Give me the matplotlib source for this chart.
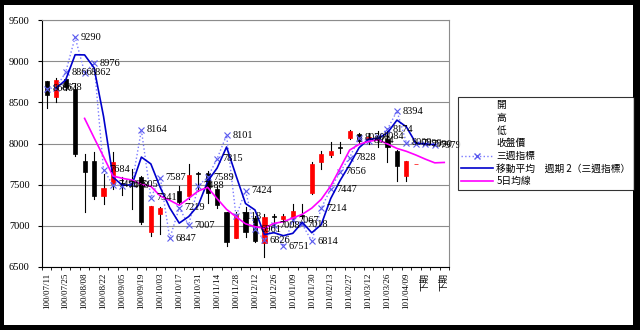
import numpy as np
import matplotlib
matplotlib.use("Agg")
import matplotlib.pyplot as plt
from matplotlib.patches import Rectangle
from matplotlib.lines import Line2D

plt.rcParams['font.family'] = ['Liberation Serif', 'Noto Sans CJK TC', 'DejaVu Sans']

# x categories (weekly)
dates = ["100/07/11", "100/07/18", "100/07/25", "100/08/01", "100/08/08", "100/08/15",
         "100/08/22", "100/08/29", "100/09/05", "100/09/12", "100/09/19", "100/09/26",
         "100/10/03", "100/10/10", "100/10/17", "100/10/24", "100/10/31", "100/11/07",
         "100/11/14", "100/11/21", "100/11/28", "100/12/05", "100/12/12", "100/12/19",
         "100/12/26", "101/01/02", "101/01/09", "101/01/16", "101/01/30", "101/02/06",
         "101/02/13", "101/02/20", "101/02/27", "101/03/05", "101/03/12", "101/03/19",
         "101/03/26", "101/04/02", "101/04/09", "下期", "下期", "下期", "下期"]

# weekly candles (open / high / low / close)
opens = [8758, 8563, 8780, 8660, 7784, 7784, 7358, 7505, 7520, 7500, 7590, 6920, 7140, None,
         7420, 7360, 7640, 7640, 7450, 7163, 6850, 7163, 7100, 6790, 7120, 7080, 7100, 7130,
         7400, 7772, 7860, 7955, 8064, 8113, 8050, 8080, 8060, 7906, 7602, 7745]
highs = [8760, 8794, 8800, 8720, 7870, 7894, 7626, 7894, 7590, 7690, 7600, 7237, 7230, None,
         7480, 7750, 7650, 7660, 7480, 7170, 7170, 7230, 7115, 7140, 7140, 7140, 7270, 7260,
         7770, 7906, 8015, 8015, 8165, 8125, 8130, 8150, 8150, 7920, 7784, 7755]
lows = [8430, 8502, 8650, 7850, 7163, 7320, 7260, 7450, 7380, 7200, 7020, 6880, 6895, None,
        7260, 7320, 7420, 7280, 7220, 6750, 6850, 6870, 6800, 6620, 6980, 7050, 7050, 7100,
        7390, 7690, 7833, 7890, 8060, 7990, 7990, 7960, 7770, 7540, 7540, 7745]
closes = [8587, 8770, 8690, 7870, 7650, 7358, 7455, 7770, 7505, 7490, 7050, 7237, 7212, None,
          7290, 7615, 7630, 7400, 7250, 6800, 7140, 6920, 6810, 7110, 7110, 7115, 7175, 7115,
          7750, 7870, 7906, 7950, 8150, 8030, 8080, 8040, 7955, 7723, 7784, 7750]

# 三週指標
week3 = [8666, 8678, 8866, 9290, 8862, 8976, 7684, 7496, 7488, 7505, 8164, 7341, 7587, 6847,
         7219, 7007, 7488, 7589, 7815, 8101, 7118, 7424, 6961, 6826, 7008, 6751, 7067, 7018,
         6814, 7214, 7447, 7656, 7828, 8070, 8034, 8084, 8174, 8394, 8009, 7999, 7990, 7979]

# 移動平均 週期 2 (三週指標)
ma2 = [None, 8672, 8772, 9078, 9076, 8919, 8330, 7590, 7492, 7497, 7835, 7752, 7464, 7217,
       7033, 7113, 7248, 7539, 7702, 7958, 7610, 7271, 7193, 6894, 6917, 6880, 6909, 7043,
       6916, 7014, 7331, 7552, 7742, 7949, 8052, 8059, 8129, 8284, 8202, 8004, 7995, 7985]

# 5日均線
ma5 = [None, None, None, None, 8305, 8070, 7840, 7605, 7577, 7556, 7504, 7480, 7362, 7310,
       7250, 7334, 7423, 7468, 7330, 7200, 7110, 7025, 6990, 6970, 7030, 7050, 7095, 7140,
       7215, 7322, 7483, 7700, 7920, 7990, 8025, 8045, 7995, 7940, 7905, 7860, 7810, 7765, 7770]

fig = plt.figure(figsize=(6.4, 3.3), dpi=100)
fig.patch.set_facecolor('black')
fig.add_artist(Rectangle((4 / 640, 5 / 330), 629 / 640, 320 / 330, transform=fig.transFigure,
                         facecolor='white', edgecolor='none', zorder=0))

ax = fig.add_axes([42 / 640, 63 / 330, 407 / 640, 247 / 330])
ax.set_facecolor('white')

# candles
for i in range(len(opens)):
    if opens[i] is None:
        continue
    o, h, l, c = opens[i], highs[i], lows[i], closes[i]
    ax.plot([i, i], [l, h], color='black', lw=0.8, zorder=2)
    col = '#ff0000' if c > o else 'black'
    ax.add_patch(Rectangle((i - 0.22, min(o, c)), 0.44, max(abs(c - o), 8),
                           facecolor=col, edgecolor=col, lw=0.5, zorder=3))

xw = np.arange(len(week3))
ax.plot(xw, week3, color='#7a7aff', ls=':', lw=1.0, marker='x', ms=4,
        mec='#5a5aee', mew=0.8, zorder=4)
for i, v in enumerate(week3):
    ax.annotate(str(v), (i, v), xytext=(4, 0), textcoords='offset points',
                va='center', ha='left', fontsize=7.5, color='black', zorder=6)

ma2_x = [i for i, v in enumerate(ma2) if v is not None]
ax.plot(ma2_x, [ma2[i] for i in ma2_x], color='#0000cc', lw=1.2, zorder=5)
ma5_x = [i for i, v in enumerate(ma5) if v is not None]
ax.plot(ma5_x, [ma5[i] for i in ma5_x], color='#ff00ff', lw=1.2, zorder=5)

ax.set_xlim(-0.5, len(dates) - 0.5)
ax.set_ylim(6500, 9500)
ax.set_yticks(np.arange(6500, 9501, 500))
ax.yaxis.grid(True, color='#8c8c8c', lw=0.8)
ax.set_axisbelow(True)
ax.tick_params(axis='y', labelsize=7.5, length=3, pad=6)

ax.set_xticks(np.arange(0, len(dates), 2))
ax.set_xticklabels(dates[::2], rotation=90, fontsize=6.5)
ax.set_xticks(np.arange(-0.5, len(dates), 1), minor=True)
ax.tick_params(axis='x', which='major', length=0, pad=4)
ax.tick_params(axis='x', which='minor', length=2)

for s in ['top', 'right']:
    ax.spines[s].set_color('#8c8c8c')
    ax.spines[s].set_linewidth(0.8)
for s in ['left', 'bottom']:
    ax.spines[s].set_color('black')
    ax.spines[s].set_linewidth(0.8)

empty = Line2D([], [], lw=0, marker=None)
handles = [empty, empty, empty, empty,
           Line2D([], [], color='#7a7aff', ls=':', marker='x', mec='#5a5aee', ms=4, lw=1.0),
           Line2D([], [], color='#0000cc', lw=1.2),
           Line2D([], [], color='#ff00ff', lw=1.2)]
labels = ["開", "高", "低", "收盤價", "三週指標", "移動平均　週期 2（三週指標）", "5日均線"]
leg = fig.legend(handles, labels, loc='upper left', bbox_to_anchor=(458 / 640, 1 - 97 / 330),
                 prop={'family': ['Noto Sans CJK TC', 'DejaVu Sans'], 'size': 7},
                 frameon=True, fancybox=False, edgecolor='black', handlelength=3.3,
                 handletextpad=0.3, labelspacing=0.27, borderpad=0.35, borderaxespad=0)
leg.get_frame().set_linewidth(0.8)

fig.savefig('out.png', dpi=100, facecolor='black')
